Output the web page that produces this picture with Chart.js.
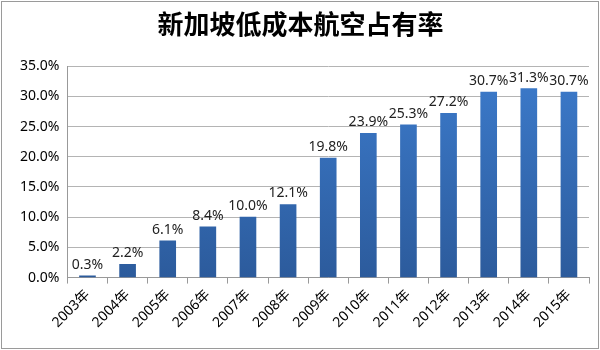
<!DOCTYPE html>
<html>
<head>
<meta charset="utf-8">
<script src="https://cdn.jsdelivr.net/npm/chart.js@4"></script>
<style>
  body { margin: 0; background: #fff; }
  #wrap { position: absolute; left: 1px; top: 1px; width: 596px; height: 346px; border: 1px solid #9a9a9a; }
</style>
</head>
<body>
<div id="wrap"><canvas id="share_chart" width="596" height="346"></canvas></div>
<script>
const years = ["2003年", "2004年", "2005年", "2006年", "2007年", "2008年", "2009年",
  "2010年", "2011年", "2012年", "2013年", "2014年", "2015年"];
const share = [0.3, 2.2, 6.1, 8.4, 10.0, 12.1, 19.8, 23.9, 25.3, 27.2, 30.7, 31.3, 30.7];

const labelFont = "'Noto Sans', 'Noto Sans CJK SC', sans-serif";

// value labels above each bar
const barLabels = {
  id: "barLabels",
  afterDatasetsDraw(chart) {
    const ctx = chart.ctx;
    const meta = chart.getDatasetMeta(0);
    ctx.save();
    ctx.font = "14px " + labelFont;
    ctx.fillStyle = "#222";
    ctx.textAlign = "center";
    ctx.textBaseline = "bottom";
    meta.data.forEach((bar, i) => {
      ctx.fillText(share[i].toFixed(1) + "%", bar.x, bar.y - 4);
    });
    ctx.restore();
  },
};

const ctx = document.getElementById("share_chart");
new Chart(ctx, {
  type: "bar",
  data: {
    labels: years,
    datasets: [
      {
        label: "占有率",
        data: share,
        backgroundColor: function (context) {
          const area = context.chart.chartArea;
          if (!area) {
            return "#3a72bf";
          }
          const g = context.chart.ctx.createLinearGradient(0, area.top, 0, area.bottom);
          g.addColorStop(0, "#3c7bcc");
          g.addColorStop(1, "#2c5b9c");
          return g;
        },
        barThickness: 16,
      },
    ],
  },
  options: {
    responsive: false,
    animation: false,
    layout: { padding: { left: 10, right: 9, top: 0, bottom: 14 } },
    plugins: {
      legend: { display: false },
      tooltip: { enabled: false },
      title: {
        display: true,
        text: "新加坡低成本航空占有率",
        color: "#000",
        font: { family: "'Noto Sans CJK SC', sans-serif", size: 26, weight: "bold" },
        padding: { top: 7, bottom: 26 },
      },
    },
    scales: {
      x: {
        offset: true,
        grid: {
          offset: true,
          drawOnChartArea: false,
          drawTicks: true,
          tickLength: 6,
          color: "#999",
        },
        border: { color: "#999" },
        ticks: {
          color: "#000",
          maxRotation: 45,
          minRotation: 45,
          font: { family: labelFont, size: 14 },
        },
      },
      y: {
        min: 0,
        max: 35,
        grid: { color: "#b4b4b4", drawTicks: false },
        border: { color: "#999" },
        ticks: {
          stepSize: 5,
          color: "#000",
          padding: 8,
          font: { family: labelFont, size: 14 },
          callback: function (value) {
            return value.toFixed(1) + "%";
          },
        },
      },
    },
  },
  plugins: [barLabels],
});
</script>
</body>
</html>
